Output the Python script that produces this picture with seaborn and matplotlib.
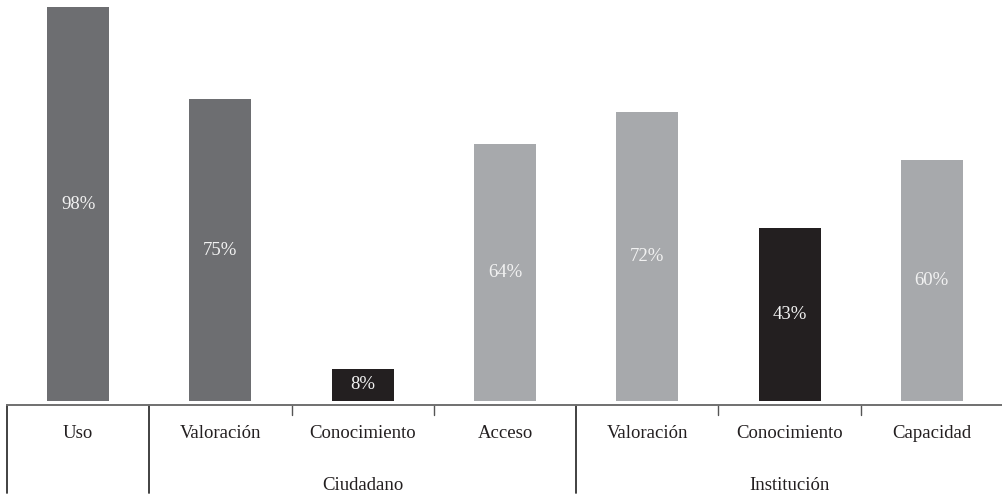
import matplotlib
matplotlib.use("Agg")
import matplotlib.pyplot as plt
import seaborn as sns
import pandas as pd

# Data
grupos = ["Ciudadano", "Ciudadano", "Ciudadano", "Ciudadano",
          "Institución", "Institución", "Institución"]
dimensiones = ["Uso", "Valoración", "Conocimiento", "Acceso",
               "Valoración", "Conocimiento", "Capacidad"]
porcentajes = [98, 75, 8, 64, 72, 43, 60]
tipos = ["uso", "uso", "conocimiento", "acceso",
         "acceso", "conocimiento", "acceso"]

colores = {"uso": "#6d6e71", "conocimiento": "#231f20", "acceso": "#a7a9ac"}

df = pd.DataFrame({
    "clave": [f"{g} - {d}" for g, d in zip(grupos, dimensiones)],
    "grupo": grupos,
    "dimension": dimensiones,
    "porcentaje": porcentajes,
    "tipo": tipos,
})

sns.set_theme(style="white")
plt.rcParams["font.family"] = ["Liberation Serif", "DejaVu Serif"]

W, H = 1003, 496
fig = plt.figure(figsize=(W / 100, H / 100), dpi=100)
ax_h = 405 / H
ax = fig.add_axes([7 / W, 1 - ax_h, 996 / W, ax_h])

sns.barplot(data=df, x="clave", y="porcentaje", hue="tipo", palette=colores,
            dodge=False, width=0.435, legend=False, ax=ax, saturation=1,
            linewidth=0)

ax.set_xlim(-0.5, 6.5)
ax.set_ylim(-1, 99.75)
ax.set_xlabel("")
ax.set_ylabel("")
ax.set_yticks([])
ax.set_xticks([])
for s in ["top", "right", "left"]:
    ax.spines[s].set_visible(False)
ax.spines["bottom"].set_color("#707070")
ax.spines["bottom"].set_linewidth(1.4)

FS = 13.5

# Value labels in the middle of each bar
for i, v in enumerate(porcentajes):
    ax.text(i, v / 2, f"{v}%", ha="center", va="center", color="#f2f2f2",
            fontsize=FS)

trans = ax.get_xaxis_transform()
px = 1 / 405  # one pixel in axes-fraction units

# Category labels
for i, d in enumerate(dimensiones):
    ax.text(i, -29 * px, d, transform=trans, ha="center", va="center",
            fontsize=FS, color="#231f20", clip_on=False)

# Group labels
ax.text(2.0, -81 * px, "Ciudadano", transform=trans, ha="center",
        va="center", fontsize=FS, color="#231f20", clip_on=False)
ax.text(5.0, -81 * px, "Institución", transform=trans, ha="center",
        va="center", fontsize=FS, color="#231f20", clip_on=False)

# Separators: full lines between groups, short ticks inside them
for xb in [-0.5, 0.5, 3.5]:
    ax.plot([xb, xb], [0, -88 * px], transform=trans, color="#333333",
            lw=1.3, clip_on=False)
for xb in [1.5, 2.5, 4.5, 5.5]:
    ax.plot([xb, xb], [0, -10 * px], transform=trans, color="#555555",
            lw=1.0, clip_on=False)

fig.savefig("out.png", dpi=100)
